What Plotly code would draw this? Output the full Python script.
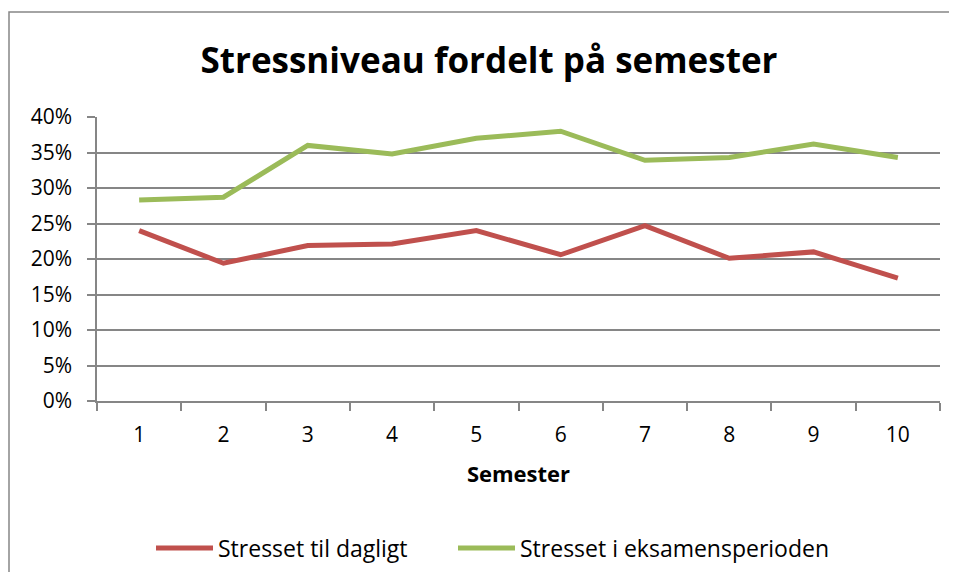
import plotly.graph_objects as go

semesters = ["1", "2", "3", "4", "5", "6", "7", "8", "9", "10"]
daily = [0.240, 0.194, 0.219, 0.221, 0.240, 0.206, 0.247, 0.201, 0.210, 0.173]
exam = [0.283, 0.287, 0.360, 0.348, 0.370, 0.380, 0.339, 0.343, 0.362, 0.343]
series_names = ["Stresset til dagligt", "Stresset i eksamensperioden"]
title_text = "Stressniveau fordelt på semester"
x_title = "Semester"

FONT = "Open Sans"
GRID = "#868686"

fig = go.Figure()
fig.add_trace(go.Scatter(x=semesters, y=daily, mode="lines", name=series_names[0],
                         line=dict(color="#C0504D", width=5), legend="legend"))
fig.add_trace(go.Scatter(x=semesters, y=exam, mode="lines", name=series_names[1],
                         line=dict(color="#9BBB59", width=5), legend="legend2"))

OFF = 8  # default page body margin
W, H = 957 - 2 * OFF, 580 - 2 * OFF
PX0, PX1, PY0, PY1 = 97, 940, 117, 401  # plot area in page pixels
L, T = PX0 - OFF, PY0 - OFF
R, B = (OFF + W) - PX1, (OFF + H) - PY1


def px(xp):
    return (xp - PX0) / (PX1 - PX0)


def py(yp):
    return (PY1 - yp) / (PY1 - PY0)


bx, by_top = px(9), py(12)
border_path = f"M {bx},-1 L {bx},{by_top} L 1.3,{by_top}"

legend_common = dict(orientation="h", xanchor="left", xref="paper",
                     y=py(548), yanchor="middle", yref="paper",
                     font=dict(family=FONT, size=23), itemwidth=57,
                     bgcolor="rgba(0,0,0,0)")

fig.update_layout(
    width=W, height=H,
    margin=dict(l=L, r=R, t=T, b=B, autoexpand=False),
    paper_bgcolor="white", plot_bgcolor="white",
    font=dict(family=FONT, size=21, color="black"),
    title=dict(text="<b>" + title_text + "</b>", font=dict(family=FONT, size=35, color="black"),
               x=px(489), xref="paper", xanchor="center",
               y=1 - (61 - OFF) / H, yref="container", yanchor="middle"),
    showlegend=True,
    legend=dict(x=px(151), **legend_common),
    legend2=dict(x=px(453), **legend_common),
    xaxis=dict(type="category", range=[-0.5, 9.5], showgrid=False, automargin=False,
               showline=True, linecolor=GRID, linewidth=1.5,
               ticks="outside", tickson="boundaries", ticklen=8, tickcolor=GRID, tickwidth=1.5,
               ticklabelstandoff=14,
               tickfont=dict(family=FONT, size=21),
               title=dict(text="<b>" + x_title + "</b>", font=dict(family=FONT, size=22), standoff=20)),
    yaxis=dict(range=[0, 0.4], dtick=0.05, tickformat=".0%", automargin=False,
               showgrid=True, gridcolor=GRID, gridwidth=1.5,
               showline=True, linecolor=GRID, linewidth=1.5,
               ticks="outside", ticklen=8, tickcolor=GRID, tickwidth=1.5,
               ticklabelstandoff=11,
               tickfont=dict(family=FONT, size=21), zeroline=False),
    shapes=[dict(type="path", xref="paper", yref="paper", path=border_path,
                 line=dict(color=GRID, width=1.5), layer="below")],
)

fig.write_html("out.html")
